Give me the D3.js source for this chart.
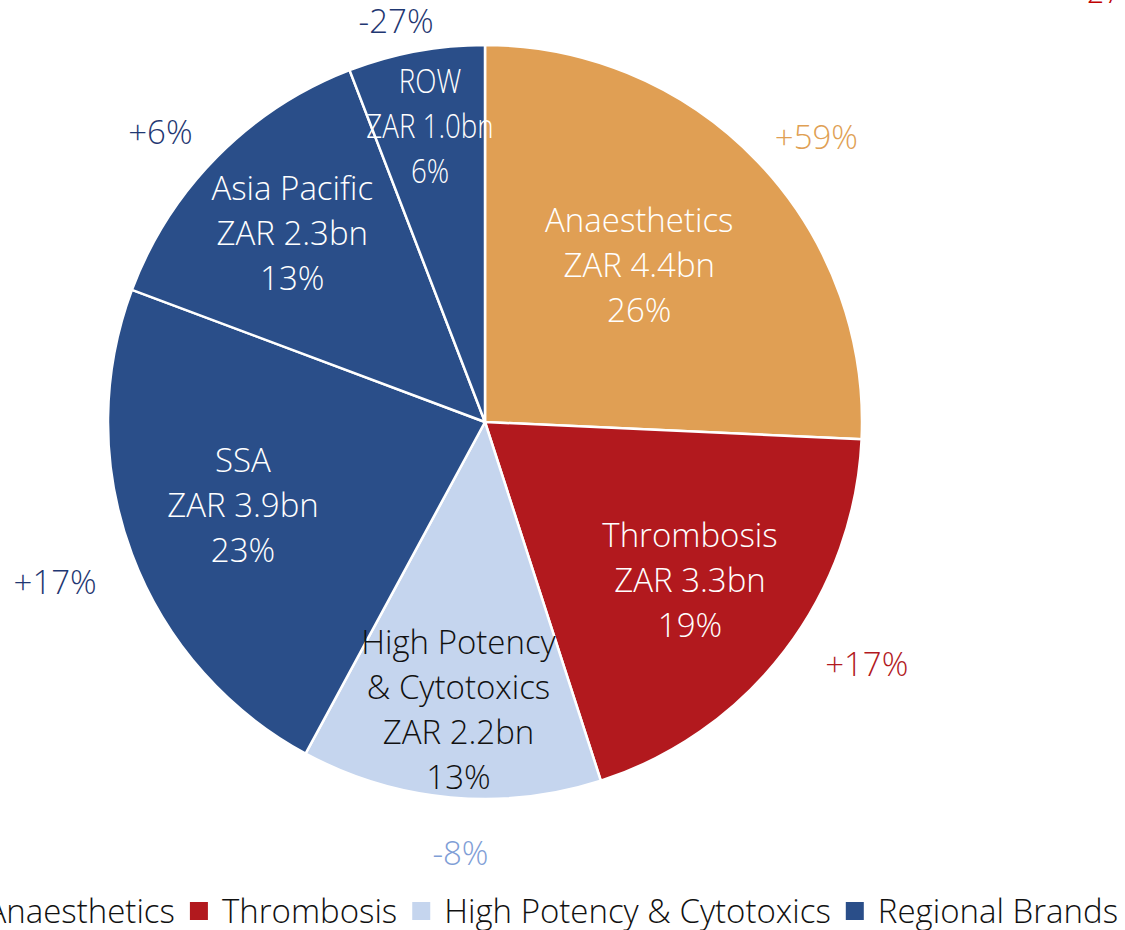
<!DOCTYPE html>
<html>
<head>
<meta charset="utf-8">
<script src="https://cdn.jsdelivr.net/npm/d3@7"></script>
<style>
  html, body { margin: 0; padding: 0; background: #fff; }
  svg text { font-family: "Open Sans", "Noto Sans", sans-serif; font-weight: 300; }
</style>
</head>
<body>
<div id="chart"></div>
<script>
// segments, clockwise from 12 o'clock
var segments = ["Anaesthetics", "Thrombosis", "High Potency & Cytotoxics", "SSA", "Asia Pacific", "ROW"];
var labelLines = [
  ["Anaesthetics"], ["Thrombosis"], ["High Potency", "& Cytotoxics"],
  ["SSA"], ["Asia Pacific"], ["ROW"]
];
var revenue = [4.4, 3.3, 2.2, 3.9, 2.3, 1.0];      // ZAR bn
var share = ["26%", "19%", "13%", "23%", "13%", "6%"];
var growth = ["+59%", "+17%", "-8%", "+17%", "+6%", "-27%"];
var group = ["Anaesthetics", "Thrombosis", "High Potency & Cytotoxics",
  "Regional Brands", "Regional Brands", "Regional Brands"];
var legendItems = ["Anaesthetics", "Thrombosis", "High Potency & Cytotoxics", "Regional Brands"];

var colors = {
  "Anaesthetics": "#E09F54",
  "Thrombosis": "#B2191E",
  "High Potency & Cytotoxics": "#C5D5EE",
  "Regional Brands": "#2A4E89"
};
var growthColors = {
  "Anaesthetics": "#E09F54",
  "Thrombosis": "#B2191E",
  "High Potency & Cytotoxics": "#7F9ED6",
  "Regional Brands": "#1F3772"
};
var textColors = {
  "Anaesthetics": "#fff",
  "Thrombosis": "#fff",
  "High Potency & Cytotoxics": "#111",
  "Regional Brands": "#fff"
};

// label placement: [angle nudge in deg, radius from centre]
var innerPos = [[-1.8, 220], [0.3, 259], [0, 289], [1.5, 256], [-0.3, 270], [0, 301]];
var outerPos = [[3, 437], [-5, 452], [-2, 432], [0, 459], [-3, 435], [-2, 410]];

var width = 1125, height = 930;
var cx = 485, cy = 422, r = 377;
var fontSize = 33, lineH = 45;

var svg = d3.select("#chart").append("svg")
  .attr("width", width)
  .attr("height", height);

var pie = d3.pie().sort(null).value(function(d) { return d; });
var arcs = pie(revenue);
var arc = d3.arc().innerRadius(0).outerRadius(r);

var g = svg.append("g").attr("transform", "translate(" + cx + "," + cy + ")");

g.selectAll("path.slice")
  .data(arcs)
  .enter().append("path")
  .attr("class", "slice")
  .attr("d", arc)
  .attr("fill", function(d, i) { return colors[group[i]]; })
  .attr("stroke", "#fff")
  .attr("stroke-width", 2.5);

function polar(angle, rad) {
  return [Math.sin(angle) * rad, -Math.cos(angle) * rad];
}
var deg = Math.PI / 180;

// inner labels
arcs.forEach(function(d, i) {
  var mid = (d.startAngle + d.endAngle) / 2 + innerPos[i][0] * deg;
  var p = polar(mid, innerPos[i][1]);
  var lines = labelLines[i].concat(["ZAR " + revenue[i].toFixed(1) + "bn", share[i]]);
  var t = g.append("text")
    .attr("text-anchor", "middle")
    .attr("font-size", fontSize)
    .attr("fill", textColors[group[i]]);
  lines.forEach(function(line, k) {
    var ts = t.append("tspan")
      .attr("x", p[0])
      .attr("y", p[1] + (k - (lines.length - 1) / 2) * lineH)
      .attr("dy", "0.35em")
      .text(line);
    if (segments[i] === "ROW") {
      // squeezed horizontally in the source
      var w = ts.node().getComputedTextLength();
      ts.attr("textLength", w * 0.84)
        .attr("lengthAdjust", "spacingAndGlyphs");
    }
  });
});

// growth labels outside
arcs.forEach(function(d, i) {
  var mid = (d.startAngle + d.endAngle) / 2 + outerPos[i][0] * deg;
  var p = polar(mid, outerPos[i][1]);
  g.append("text")
    .attr("x", p[0])
    .attr("y", p[1])
    .attr("dy", "0.35em")
    .attr("text-anchor", "middle")
    .attr("font-size", fontSize)
    .attr("fill", growthColors[group[i]])
    .text(growth[i]);
});

// legend, right aligned, runs off the left edge like the source
var legend = svg.append("g");
var x = 0;
legendItems.forEach(function(name) {
  legend.append("rect")
    .attr("x", x).attr("y", -9)
    .attr("width", 18).attr("height", 18)
    .attr("fill", colors[name]);
  var t = legend.append("text")
    .attr("x", x + 32)
    .attr("y", 0)
    .attr("dy", "0.35em")
    .attr("font-size", fontSize)
    .attr("fill", "#111")
    .text(name);
  x += 32 + t.node().getComputedTextLength() + 15;
});
x -= 15;
legend.attr("transform", "translate(" + (1118 - x) + ",911)");

// page number peeking in from the top
svg.append("text")
  .attr("x", 1087)
  .attr("y", 3)
  .attr("font-size", 30)
  .attr("fill", "#C00000")
  .text("27");
</script>
</body>
</html>
